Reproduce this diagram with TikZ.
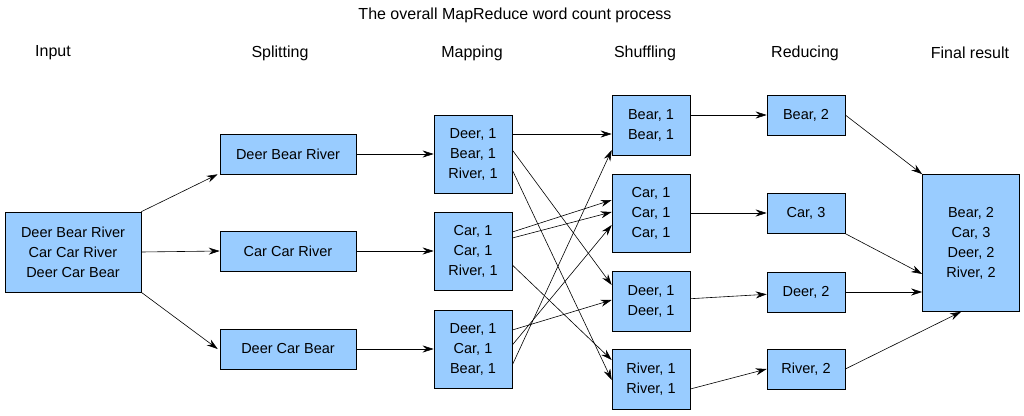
\documentclass[tikz,border=0pt]{standalone}
\usepackage{fontspec}
\setmainfont{Liberation Sans}
\usetikzlibrary{arrows.meta}
\begin{document}
\begin{tikzpicture}[x=1pt,y=-1pt,
  box/.style={draw=black,fill=boxblue,line width=0.6pt,inner sep=0pt,align=center,font=\fontsize{14.5}{20}\selectfont},
  hdr/.style={font=\fontsize{16}{19}\selectfont},
  arr/.style={line width=0.6pt,-{Stealth[length=11pt,width=7pt]}}]
\definecolor{boxblue}{HTML}{99CCFF}
\useasboundingbox (0,0) rectangle (1024,415);
\node[hdr] (title) at (515,15) {The overall MapReduce word count process};
\node[hdr] (h1) at (53,53) {Input};
\node[hdr] (h2) at (280,53) {Splitting};
\node[hdr] (h3) at (472,53) {Mapping};
\node[hdr] (h4) at (645,53) {Shuffling};
\node[hdr] (h5) at (805,53) {Reducing};
\node[hdr] (h6) at (970,53) {Final result};
\node[box,minimum width=136,minimum height=80] (in) at (73,252) {Deer Bear River\\Car Car River\\Deer Car Bear};
\node[box,minimum width=136,minimum height=40] (s1) at (288,154) {Deer Bear River};
\node[box,minimum width=136,minimum height=40] (s2) at (288,251) {Car Car River};
\node[box,minimum width=136,minimum height=40] (s3) at (288,349) {Deer Car Bear};
\node[box,minimum width=78,minimum height=78] (m1) at (473,154) {Deer, 1\\Bear, 1\\River, 1};
\node[box,minimum width=78,minimum height=78] (m2) at (473,251) {Car, 1\\Car, 1\\River, 1};
\node[box,minimum width=78,minimum height=78] (m3) at (473,349) {Deer, 1\\Car, 1\\Bear, 1};
\node[box,minimum width=78,minimum height=60] (u1) at (651,125) {Bear, 1\\Bear, 1};
\node[box,minimum width=78,minimum height=78] (u2) at (651,213) {Car, 1\\Car, 1\\Car, 1};
\node[box,minimum width=78,minimum height=60] (u3) at (651,301) {Deer, 1\\Deer, 1};
\node[box,minimum width=78,minimum height=60] (u4) at (651,379) {River, 1\\River, 1};
\node[box,minimum width=78,minimum height=40] (r1) at (806,115) {Bear, 2};
\node[box,minimum width=78,minimum height=40] (r2) at (806,213) {Car, 3};
\node[box,minimum width=78,minimum height=40] (r3) at (806,292) {Deer, 2};
\node[box,minimum width=78,minimum height=40] (r4) at (806,369) {River, 2};
\node[box,minimum width=97,minimum height=137] (f) at (971,243) {Bear, 2\\Car, 3\\Deer, 2\\River, 2};
\draw[arr] (in.north east) -- ([xshift=-2pt]s1.south west);
\draw[arr] (in.east) -- (s2.west);
\draw[arr] (in.south east) -- ([xshift=-2pt]s3.west);
\draw[arr] (s1) -- (m1);
\draw[arr] (s2) -- (m2);
\draw[arr] (s3) -- (m3);
\draw[arr] ([yshift=20pt]m1.east) -- ([yshift=-9pt]u1.west);
\draw[arr] ([yshift=4pt]m1.east) -- ([yshift=16pt]u3.west);
\draw[arr] ([yshift=-16pt]m1.east) -- ([yshift=-1pt]u4.west);
\draw[arr] ([yshift=19pt]m2.east) -- ([yshift=13pt]u2.west);
\draw[arr] ([yshift=13pt]m2.east) -- ([yshift=1pt]u2.west);
\draw[arr] ([yshift=-14pt]m2.east) -- ([yshift=19pt]u4.west);
\draw[arr] ([yshift=19pt]m3.east) -- ([yshift=1pt]u3.west);
\draw[arr] ([yshift=4pt]m3.east) -- ([yshift=-12pt]u2.west);
\draw[arr] ([yshift=-16pt]m3.east) -- ([yshift=-25pt]u1.west);
\draw[arr] ([yshift=10pt]u1.east) -- (r1.west);
\draw[arr] (u2) -- (r2);
\draw[arr] (u3) -- (r3);
\draw[arr] ([yshift=-10pt]u4.east) -- (r4.west);
\draw[arr] (r1.east) -- (f.north west);
\draw[arr] (r2) -- ([yshift=-31pt]f.west);
\draw[arr] (r3) -- ([yshift=-49pt]f.west);
\draw[arr] (r4.east) -- ([xshift=-10pt]f.south);
\end{tikzpicture}
\end{document}
